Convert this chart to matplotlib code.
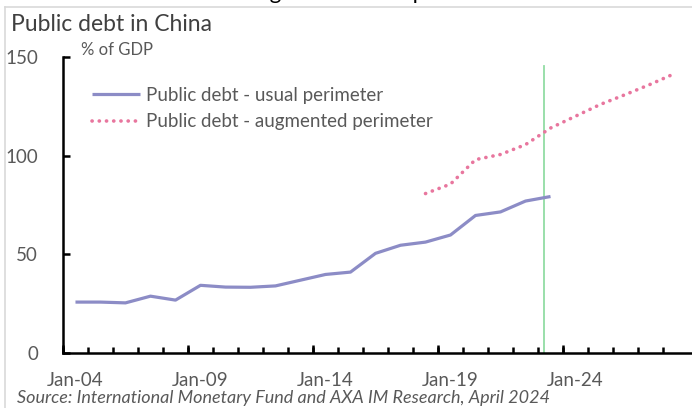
import matplotlib.pyplot as plt
from matplotlib.lines import Line2D

plt.rcParams['font.family'] = ['Lato', 'DejaVu Sans']

# Data
years = list(range(2004, 2029))
usual_years = list(range(2004, 2024))
usual_debt = [25.8, 25.8, 25.4, 28.8, 26.8, 34.3, 33.4, 33.3, 34.0, 36.9,
              39.8, 41.0, 50.5, 54.6, 56.2, 59.8, 69.7, 71.5, 77.0, 79.3]
augmented_years = list(range(2018, 2029))
augmented_debt = [80.8, 85.6, 98.0, 100.6, 105.6, 114.0, 120.0, 126.0,
                  131.0, 136.2, 141.8]
label_years = [2004, 2009, 2014, 2019, 2024]
tick_labels = ['Jan-04', 'Jan-09', 'Jan-14', 'Jan-19', 'Jan-24']
marker_date = 2022.72

gray = '#595959'
blue = '#8C8CC6'
pink = '#E8769E'
green = '#92DCA4'

fig = plt.figure(figsize=(6.92, 4.08), dpi=100)
ax = fig.add_axes([0.091, 0.1348, 0.9076, 0.7255])

ax.plot(usual_years, usual_debt, color=blue, lw=2.3, solid_capstyle='butt',
        label='Public debt - usual perimeter', zorder=3)
ax.plot(augmented_years, augmented_debt, color=pink, lw=2.6,
        linestyle=(0, (0.05, 1.95)), dash_capstyle='round',
        label='Public debt - augmented perimeter', zorder=3)
ax.axvline(marker_date, ymin=0, ymax=0.97, color=green, lw=1.3, zorder=2)

ax.set_xlim(years[0] - 0.5, years[-1] + 0.62)
ax.set_ylim(0, 150)

for s in ['top', 'right']:
    ax.spines[s].set_visible(False)
for s in ['left', 'bottom']:
    ax.spines[s].set_linewidth(1.8)
    ax.spines[s].set_color('black')

ax.set_yticks([0, 50, 100, 150])
ax.tick_params(axis='y', direction='in', length=5, width=1.8, colors='black',
               labelcolor=gray, labelsize=13.5, pad=18)

ax.set_xticks(label_years)
ax.set_xticklabels(tick_labels)
ax.set_xticks([y - 0.5 for y in years], minor=True)
ax.tick_params(axis='x', which='major', length=0, labelcolor=gray,
               labelsize=13.5, pad=14)
ax.tick_params(axis='x', which='minor', direction='in', length=4, width=1.8,
               colors='black')
sec = ax.secondary_xaxis('bottom')
sec.set_xticks([y - 0.5 for y in label_years])
sec.tick_params(axis='x', direction='in', length=6, width=1.8,
                labelbottom=False)
sec.spines['bottom'].set_visible(False)

ax.legend(loc='upper left', bbox_to_anchor=(0.035, 0.925), frameon=False,
          fontsize=13.5, labelcolor=gray, handlelength=2.55, handletextpad=0.3,
          labelspacing=0.5, borderaxespad=0)

fig.text(0.117, 0.877, '% of GDP', color=gray, fontsize=12, va='center')
fig.text(0.016, 0.94, 'Public debt in China', color='#404040', fontsize=16.5,
         va='center')
fig.text(0.025, 0.004, 'Source: International Monetary Fund and AXA IM Research, April 2024',
         color=gray, fontsize=13, style='italic', va='bottom')
# clipped heading above the frame
fig.text(0.35, 1.003, 'Augmented debt perimeter', color='black', fontsize=16,
         va='baseline')

fig.add_artist(Line2D([0.007, 1.0], [0.983, 0.983], color='#D9D9D9', lw=1.2))
fig.add_artist(Line2D([0.007, 0.007], [0.0, 0.983], color='#D9D9D9', lw=1.2))

fig.savefig('out.png', dpi=100)
